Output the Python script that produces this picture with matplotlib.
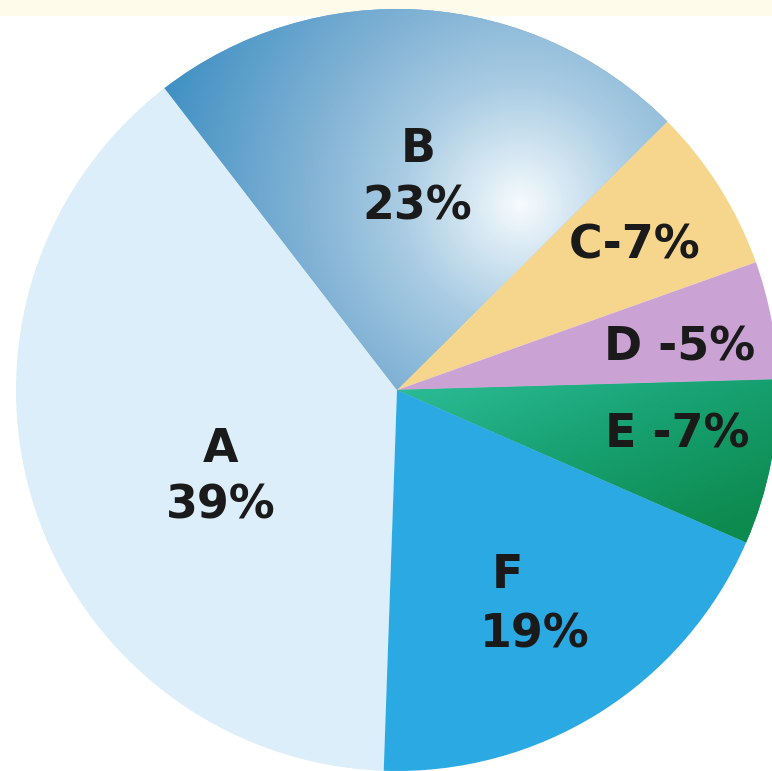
import numpy as np
import matplotlib
matplotlib.use("Agg")
import matplotlib.pyplot as plt
from matplotlib.colors import LinearSegmentedColormap
from matplotlib.patches import Rectangle

# ---- data ----
categories = ["A", "B", "C", "D", "E", "F"]
shares = [39, 23, 7, 5, 7, 19]
label_texts = ["A\n39%", "B\n23%", "C-7%", "D -5%", "E -7%", "F\n19%"]
colors = ["#dbeef9", "#6fa9d2", "#f6d68c", "#caa3d4", "#19a478", "#2aa9e3"]

W, H = 772, 771
fig = plt.figure(figsize=(W / 100, H / 100), dpi=100)
fig.patch.set_facecolor("white")
ax = fig.add_axes([0, 0, 1, 1])
ax.set_xlim(0, W)
ax.set_ylim(0, H)
ax.axis("off")

# faint cream band at top
ax.add_patch(Rectangle((0, H - 16), W, 16, color="#fffbea", zorder=0, lw=0))

cx, cy, r = 397, H - 390, 381
wedges, _ = ax.pie(shares, colors=colors, startangle=268, counterclock=False,
                   center=(cx, cy), radius=r, frame=True,
                   wedgeprops=dict(linewidth=0))
ax.set_xlim(0, W)
ax.set_ylim(0, H)
ax.set_aspect("equal")
ax.axis("off")

# radial gradient for B
yy, xx = np.mgrid[0:H, 0:W]
hx, hy = 520, H - 205
d = np.hypot(xx - hx, yy - hy)
cmapB = LinearSegmentedColormap.from_list(
    "b", [(0.0, "#f6fbfe"), (60 / 380, "#cfe3f0"), (120 / 380, "#a9cce3"),
          (220 / 380, "#7fb1d4"), (1.0, "#3d8fc3")])
imB = ax.imshow(np.clip(d / 380, 0, 1), cmap=cmapB, vmin=0, vmax=1,
                extent=(0, W, 0, H), origin="lower", zorder=2, interpolation="bilinear")
imB.set_clip_path(wedges[1])

# linear gradient for E
t = ((xx - 400) * 0.4 + ((H - yy) - 390) * 1.0) / 270
cmapE = LinearSegmentedColormap.from_list("e", ["#2bbb95", "#17a070", "#0d8a4e"])
imE = ax.imshow(np.clip(t, 0, 1), cmap=cmapE, vmin=0, vmax=1,
                extent=(0, W, 0, H), origin="lower", zorder=2, interpolation="bilinear")
imE.set_clip_path(wedges[4])

# labels (image pixel positions converted to data y)
label_pos = {
    "A": [("A", 221, 450), ("39%", 221, 506)],
    "B": [("B", 418, 150), ("23%", 417, 207)],
    "C": [("C-7%", 635, 246)],
    "D": [("D -5%", 680, 348)],
    "E": [("E -7%", 677, 435)],
    "F": [("F", 507, 576), ("19%", 535, 635)],
}
for cat in categories:
    for txt, x, y in label_pos[cat]:
        ax.text(x, H - y, txt, ha="center", va="center", fontsize=33,
                fontweight="bold", color="#1a1a1a", family="DejaVu Sans", zorder=5)

fig.savefig("out.png", dpi=100)
